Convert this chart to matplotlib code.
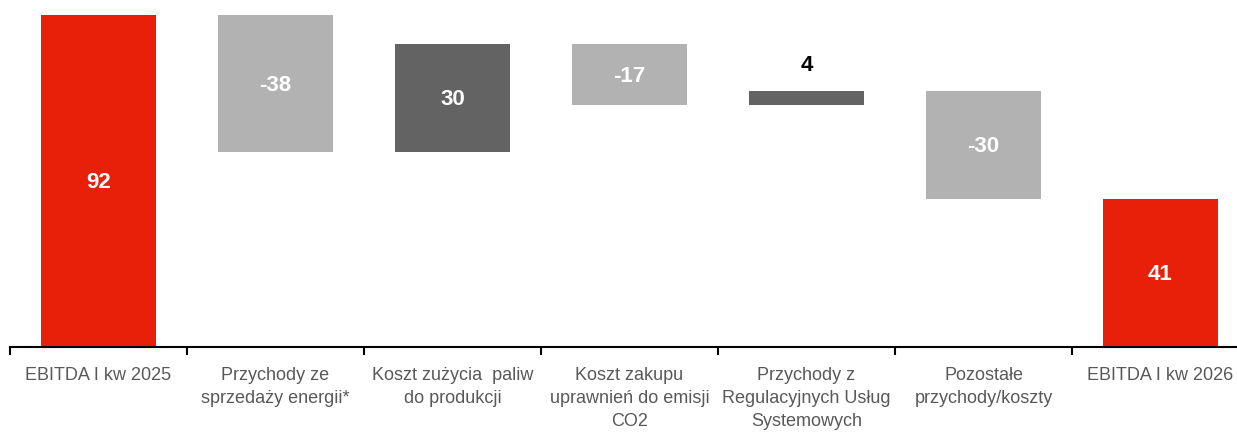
import numpy as np
import matplotlib.pyplot as plt

categories = ["EBITDA I kw 2025", "Przychody ze\nsprzedaży energii*",
              "Koszt zużycia  paliw\ndo produkcji", "Koszt zakupu\nuprawnień do emisji\nCO2",
              "Przychody z\nRegulacyjnych Usług\nSystemowych", "Pozostałe\nprzychody/koszty",
              "EBITDA I kw 2026"]
changes = [92, -38, 30, -17, 4, -30, 41]
labels = ["92", "-38", "30", "-17", "4", "-30", "41"]
is_total = [True, False, False, False, False, False, True]

red = "#E8200A"
light = "#B2B2B2"
dark = "#636363"

# build waterfall bottoms / heights
bottoms, heights, colors = [], [], []
level = 0
for v, tot in zip(changes, is_total):
    if tot:
        bottoms.append(0)
        heights.append(v)
        colors.append(red)
        level = v
    else:
        if v >= 0:
            bottoms.append(level)
            colors.append(dark)
        else:
            bottoms.append(level + v)
            colors.append(light)
        heights.append(abs(v))
        level += v

fig = plt.figure(figsize=(12.37, 4.32), dpi=100)
W, H = 1237, 432
ax = fig.add_axes([10 / W, (H - 347) / H, 1239 / W, 332 / H])

x = np.arange(len(categories))
ax.bar(x, heights, bottom=bottoms, width=0.65, color=colors, edgecolor="none")

lab_font = ["Liberation Sans Narrow", "Liberation Sans"]
for i, (b, h, lab) in enumerate(zip(bottoms, heights, labels)):
    if h < 8:
        ax.text(i, b + h + 7, lab, ha="center", va="center", color="black",
                fontsize=16, fontweight="bold", family=lab_font)
    else:
        ax.text(i, b + h / 2 - 0.5, lab, ha="center", va="center", color="white",
                fontsize=16, fontweight="bold", family=lab_font)

ax.set_xlim(-0.5, len(categories) - 0.5)
ax.set_ylim(0, 92)
ax.set_yticks([])
ax.set_xticks(x)
ax.set_xticklabels(categories, fontsize=13, color="#595959",
                   family=["Liberation Sans", "DejaVu Sans"], linespacing=1.45)
ax.tick_params(axis="x", length=0, pad=14.5)
# boundary ticks
ax.set_xticks(np.arange(-0.5, len(categories) + 0.5, 1), minor=True)
ax.tick_params(axis="x", which="minor", length=6, width=1.5, direction="out", color="black")
for s in ["top", "right", "left"]:
    ax.spines[s].set_visible(False)
ax.spines["bottom"].set_linewidth(1.5)

fig.savefig("out.png", dpi=100)
